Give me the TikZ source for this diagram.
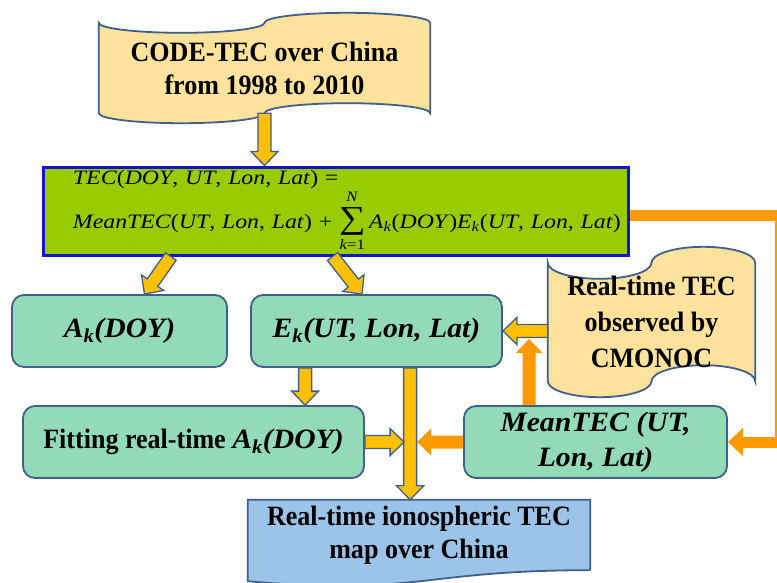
\documentclass[tikz,border=0pt]{standalone}
\usepackage{amsmath, exscale}
\usepackage{fontspec}
\setmainfont{Liberation Serif}[
    UprightFeatures={FakeStretch=0.93},
    BoldFeatures={FakeStretch=0.93},
    ItalicFeatures={FakeStretch=1.0},
    BoldItalicFeatures={FakeStretch=1.06}]
\newfontfamily\eqfont{Liberation Serif}[FakeStretch=1.16]
\usetikzlibrary{calc}
\usetikzlibrary{backgrounds}
\usetikzlibrary{arrows.meta}

\definecolor{tapefill}{HTML}{FFE29C}
\definecolor{edgeblue}{HTML}{3F6089}
\definecolor{mint}{HTML}{93DBB8}
\definecolor{lime}{HTML}{99CC00}
\definecolor{eqblue}{HTML}{1414CC}
\definecolor{skyfill}{HTML}{9CC3E8}
\definecolor{amber}{HTML}{FFC000}
\definecolor{tangerine}{HTML}{FF9900}

\newcommand{\vv}[1]{\textit{#1}}
\newcommand{\ksub}[1]{$_{\text{#1}}$}
\newcommand{\bigsum}{$\overset{\text{\vv{N}}}{\underset{\text{\vv{k}=1}}{\raisebox{0pt}[23pt][7pt]{\fontsize{32}{32}\selectfont ∑}}}$}

\def\shaftw{6.5pt}
\def\wingw{13.5pt}
\def\headl{14pt}

\tikzset{
    x=1pt, y=1pt,
    every node/.append style={
        font=\fontsize{28}{33}\selectfont\bfseries,
        align=center,
        inner sep=0pt
    },
    box/.style={
        rectangle,
        rounded corners=12pt,
        draw=edgeblue,
        line width=1.8pt,
        fill=mint,
        minimum height=72pt
    },
    eqbox/.style={
        rectangle,
        draw=eqblue,
        line width=3pt,
        fill=lime,
        minimum width=585pt,
        minimum height=88pt,
        text width=581pt,
        align=left,
        font=\eqfont\fontsize{20.5}{25}\selectfont
    },
    tapeline/.style={
        draw=edgeblue,
        line width=1.8pt,
        fill=tapefill
    },
    mapline/.style={
        draw=edgeblue,
        line width=1.8pt,
        fill=skyfill
    },
    coldarrow/.style={
        draw=edgeblue,
        line width=1.3pt,
        fill=amber,
        line join=miter
    },
    hotarrow/.style={
        draw=none,
        fill=tangerine
    },
    feedback/.style={
        draw=tangerine,
        line width=11pt,
        line join=miter
    }
}

% wavy tape behind a node
\newcommand{\tapeoutline}[2]{%
    \begin{scope}[on background layer]
        \filldraw[tapeline] let \p1=(#1.north west), \p2=(#1.south east), \n1={(\x2-\x1)/4} in
            (\p1) arc[start angle=180, end angle=360, x radius=\n1, y radius=#2pt]
            arc[start angle=180, end angle=0, x radius=\n1, y radius=#2pt]
            -- (\x2,\y2)
            arc[start angle=0, end angle=180, x radius=\n1, y radius=#2pt]
            arc[start angle=0, end angle=-180, x radius=\n1, y radius=#2pt]
            -- cycle;
    \end{scope}}

% fat arrow from #2 to #3
\newcommand{\blockarrow}[3][coldarrow]{%
    \path #2 coordinate (tail) #3 coordinate (tip);
    \path ($(tip)!\headl!(tail)$) coordinate (neck);
    \filldraw[#1] ($(tail)!\shaftw!90:(tip)$) -- ($(neck)!\shaftw!90:(tip)$)
        -- ($(neck)!\wingw!90:(tip)$) -- (tip) -- ($(neck)!\wingw!-90:(tip)$)
        -- ($(neck)!\shaftw!-90:(tip)$) -- ($(tail)!\shaftw!-90:(tip)$) -- cycle;}

\begin{document}
\begin{tikzpicture}
    \useasboundingbox (0,0) rectangle (777,-582);

    \node[minimum width=331pt, minimum height=90pt] (code) at (264.5,-68) {CODE-TEC over China\\from 1998 to 2010};
    \node[eqbox] (eq) at (335.5,-211) {\hspace*{28pt}\vv{TEC}(\vv{DOY}, \vv{UT}, \vv{Lon}, \vv{Lat}) =\\[0pt]
        \hspace*{28pt}\vv{MeanTEC}(\vv{UT}, \vv{Lon}, \vv{Lat}) + \bigsum\,\vv{A}\ksub{\vv{k}}(\vv{DOY})\vv{E}\ksub{\vv{k}}(\vv{UT}, \vv{Lon}, \vv{Lat})};
    \node[box, minimum width=215pt] (ak) at (119.5,-331) {\vv{A\ksub{k}(DOY)}};
    \node[box, minimum width=251pt] (ek) at (376.5,-331) {\vv{E\ksub{k}(UT, Lon, Lat)}};
    \node[minimum width=207pt, minimum height=118pt, font=\fontsize{28}{36}\selectfont\bfseries] (obs) at (651.5,-322) {Real-time TEC\\observed by\\CMONOC};
    \node[box, minimum width=341pt] (fit) at (193.5,-442) {Fitting real-time \vv{A\ksub{k}(DOY)}};
    \node[box, minimum width=263pt, font=\fontsize{28}{35}\selectfont\bfseries] (mean) at (595.5,-442) {\vv{MeanTEC (UT,}\\\vv{Lon, Lat)}};
    \node[minimum width=342pt, minimum height=70pt] (map) at (419,-535) {Real-time ionospheric TEC\\map over China};

    \tapeoutline{code}{10}
    \tapeoutline{obs}{16}
    \begin{scope}[on background layer]
        \filldraw[mapline] (map.south east) -- (map.north east) -- (map.north west)
            -- ($(map.south west)+(0,-11)$) .. controls ($(map.south)+(0,-26)$) and (map.south) .. (map.south east);
    \end{scope}

    \draw[feedback, -{Triangle[width=27pt, length=15pt]}] ($(eq.east)+(0,-4)$) -- ++(151,0) |- (mean.east);

    \coordinate (drop) at ($(ek.south west)+(55,0)$);
    \coordinate (trunk) at ($(ek.south west)+(160,0)$);
    \coordinate (rise) at ($(mean.north west)+(66,0)$);

    \blockarrow{(code.south)}{(code.south |- eq.north)}
    \blockarrow{($(eq.south west)!0.22!(eq.south east)$)}{($(ak.north)+(25,0)$)}
    \blockarrow{($(eq.south west)!0.495!(eq.south east)$)}{($(ek.north)+(-14.5,0)$)}
    \blockarrow{(drop)}{(drop |- fit.north)}
    \blockarrow{(trunk)}{(trunk |- map.north)}
    \blockarrow{(fit.east)}{($(trunk |- fit.east)+(-6,0)$)}
    \blockarrow{(ek.east -| obs.west)}{(ek.east)}
    \blockarrow[hotarrow]{(mean.west)}{($(trunk |- mean.west)+(7,0)$)}
    \blockarrow[hotarrow]{(rise)}{($(rise |- ek.east)+(0,-8)$)}
\end{tikzpicture}
\end{document}
